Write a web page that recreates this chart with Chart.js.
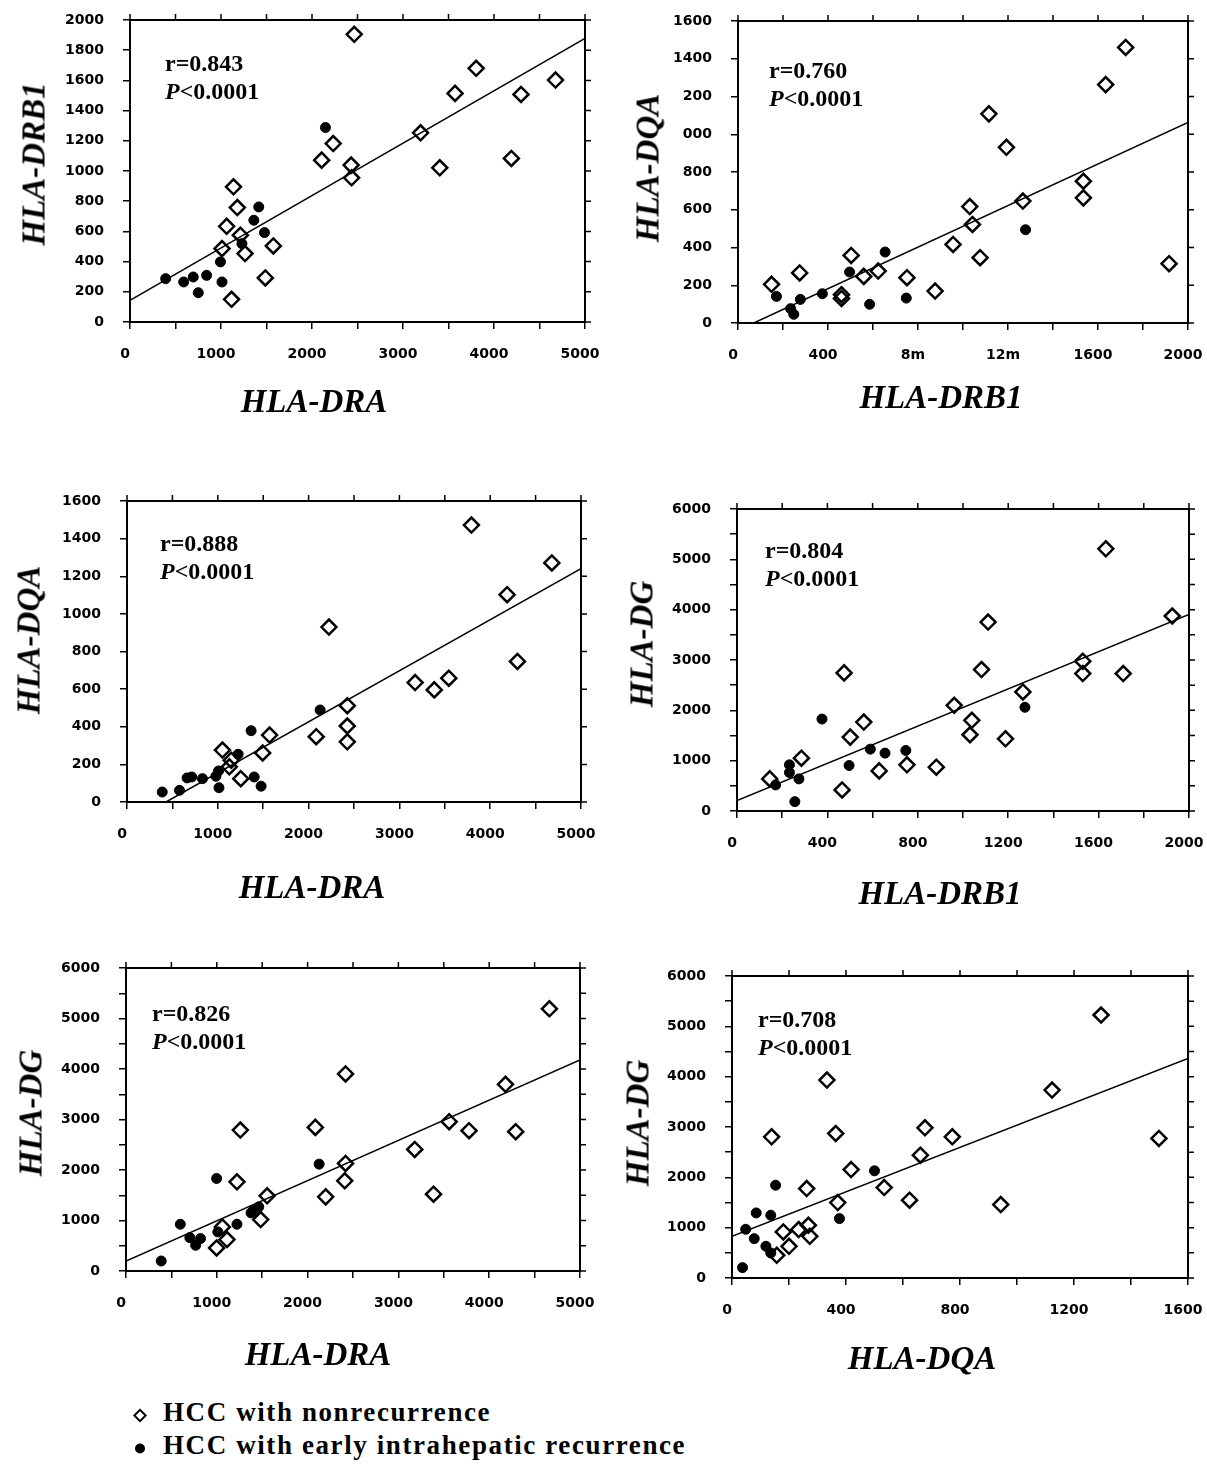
<!DOCTYPE html>
<html lang="en">
<head>
<meta charset="utf-8" />
<title>HLA class II expression correlations</title>
<style>
    html, body {
        margin: 0;
        padding: 0;
        background: #fff;
    }

    body {
        width: 1207px;
        height: 1465px;
        position: relative;
        overflow: hidden;
        color: #000;
    }

    canvas {
        position: absolute;
    }

    .axis-title {
        position: absolute;
        font-family: 'Liberation Serif', 'DejaVu Serif', serif;
        font-weight: bold;
        font-style: italic;
        font-size: 33px;
        white-space: nowrap;
        transform: translate(-50%, -50%);
    }

        .axis-title.vertical {
            transform: translate(-50%, -50%) rotate(-90deg);
        }

    .stat {
        position: absolute;
        font-family: 'Liberation Serif', 'DejaVu Serif', serif;
        font-weight: bold;
        font-size: 24px;
        line-height: 28px;
        white-space: nowrap;
        transform: translateY(-50%);
    }

    .legend-row {
        position: absolute;
        left: 131px;
        font-family: 'Liberation Serif', 'DejaVu Serif', serif;
        font-weight: bold;
        font-size: 27px;
        letter-spacing: 1.6px;
        white-space: nowrap;
        transform: translateY(-50%);
        display: flex;
        align-items: center;
    }

    .mark {
        display: inline-block;
        width: 18px;
        margin-right: 14px;
        text-align: center;
    }

    .mark.open::before {
        content: "";
        display: inline-block;
        width: 6px;
        height: 6px;
        border: 2px solid #000;
        transform: rotate(45deg);
    }

    .mark.filled::before {
        content: "";
        display: inline-block;
        width: 10px;
        height: 10px;
        border-radius: 50%;
        background: #000;
    }
</style>
</head>
<body>

<script src="https://cdn.jsdelivr.net/npm/chart.js@4.4.3/dist/chart.umd.min.js"></script>
<script>
    // values: [x, y] pairs per group, plus regression line end points

    // HLA-DRB1 vs HLA-DRA
    const p1Non = [[2464, 1905], [3804, 1680], [4676, 1602], [3572, 1514], [4297, 1507], [3193, 1253], [2233, 1182], [2106, 1072], [2430, 1039], [3404, 1021], [4191, 1083], [2435, 955], [1137, 895], [1179, 758], [1062, 634], [1213, 575], [1011, 486], [1264, 453], [1575, 504], [1487, 292], [1116, 150]];
    const p1Early = [[2148, 1288], [1415, 762], [1361, 674], [1478, 592], [1230, 519], [994, 398], [1011, 265], [842, 309], [695, 298], [590, 265], [750, 194], [392, 287]];
    const p1Fit = [[0, 144], [5000, 1878]];

    // HLA-DQA vs HLA-DRB1
    const p2Non = [[1723, 1460], [1634, 1263], [1115, 1108], [1193, 931], [1535, 751], [1535, 663], [1030, 617], [1042, 522], [1266, 646], [956, 416], [1076, 346], [1916, 314], [876, 169], [751, 240], [623, 275], [559, 247], [503, 358], [460, 150], [460, 130], [274, 265], [149, 205]];
    const p2Early = [[654, 376], [496, 270], [375, 155], [277, 125], [171, 141], [234, 76], [248, 46], [585, 99], [748, 132], [1278, 494]];
    const p2Fit = [[70, 0], [2000, 1063]];

    // HLA-DQA vs HLA-DRA
    const p3Non = [[3793, 1472], [4679, 1271], [4186, 1102], [2224, 930], [4300, 747], [3544, 658], [3173, 635], [3384, 596], [2426, 512], [2426, 404], [2426, 320], [2084, 347], [1570, 356], [1494, 261], [1051, 276], [1127, 187], [1253, 124], [1148, 222]];
    const p3Early = [[2127, 489], [1367, 379], [1224, 254], [1008, 165], [979, 137], [1013, 76], [1401, 133], [1477, 84], [831, 124], [713, 133], [662, 128], [578, 62], [388, 53]];
    const p3Fit = [[430, 0], [5000, 1240]];

    // HLA-DG vs HLA-DRB1
    const p4Non = [[1632, 5209], [1926, 3874], [1111, 3754], [1082, 2811], [474, 2744], [1530, 2977], [1530, 2731], [1709, 2731], [1265, 2365], [961, 2100], [1039, 1801], [1031, 1515], [1188, 1435], [561, 1767], [501, 1468], [285, 1050], [145, 638], [629, 797], [752, 917], [882, 870], [465, 419]];
    const p4Early = [[376, 1827], [1274, 2060], [590, 1229], [655, 1150], [747, 1203], [496, 904], [232, 917], [232, 764], [274, 638], [171, 518], [256, 186]];
    const p4Fit = [[0, 206], [2000, 3907]];

    // HLA-DG vs HLA-DRA
    const p5Non = [[4663, 5192], [2418, 3902], [4179, 3697], [3559, 2956], [3778, 2778], [4292, 2758], [1259, 2791], [2085, 2844], [3180, 2407], [2418, 2130], [2409, 1786], [2199, 1468], [3387, 1521], [1222, 1766], [1554, 1488], [1483, 1019], [1112, 622], [998, 456], [1061, 873]];
    const p5Early = [[998, 1832], [2127, 2116], [598, 926], [1222, 926], [1407, 1204], [1462, 1270], [1377, 1151], [1011, 774], [703, 661], [821, 642], [767, 509], [388, 198]];
    const p5Fit = [[0, 198], [5000, 4180]];

    // HLA-DG vs HLA-DQA
    const p6Non = [[1295, 5225], [333, 3932], [1123, 3733], [1498, 2772], [677, 2984], [773, 2805], [364, 2871], [139, 2805], [661, 2440], [418, 2155], [534, 1797], [623, 1545], [943, 1459], [371, 1499], [262, 1777], [268, 1048], [273, 829], [234, 962], [180, 915], [200, 630], [157, 451]];
    const p6Early = [[153, 1844], [500, 2129], [85, 1293], [136, 1247], [377, 1180], [48, 968], [78, 782], [119, 630], [136, 497], [37, 206]];
    const p6Fit = [[0, 829], [1600, 4363]];

    // tick labels, one per major tick (as printed in the figure)
    const draTicks = ['0', '1000', '2000', '3000', '4000', '5000'];
    const drb1Ticks = ['0', '400', '800', '1200', '1600', '2000'];
    const drb1TicksTopRight = ['0', '400', '8m', '12m', '1600', '2000'];
    const dqaXTicks = ['0', '400', '800', '1200', '1600'];
    const drb1YTicks = ['0', '200', '400', '600', '800', '1000', '1200', '1400', '1600', '1800', '2000'];
    const dqaYTicks = ['0', '200', '400', '600', '800', '1000', '1200', '1400', '1600'];
    const dqaYTicksTopRight = ['0', '200', '400', '600', '800', '000', '200', '1400', '1600'];
    const dgYTicks = ['0', '1000', '2000', '3000', '4000', '5000', '6000'];

    const rValues = ['0.843', '0.760', '0.888', '0.804', '0.826', '0.708'];
    const legendLabels = ['HCC with nonrecurrence', 'HCC with early intrahepatic recurrence'];

    const panels = [
        { non: p1Non, early: p1Early, fit: p1Fit, r: rValues[0], box: [0, 0, 615, 420], area: [130, 20, 585, 322],
          x: { max: 5000, major: 1000, labels: draTicks, title: 'HLA-DRA' }, y: { max: 2000, major: 200, minor: 200, labels: drb1YTicks, title: 'HLA-DRB1' },
          xTitleAt: [314, 401], yTitleAt: [34, 164], statAt: [165, 63] },
        { non: p2Non, early: p2Early, fit: p2Fit, r: rValues[1], box: [620, 0, 587, 420], area: [738, 21, 1188, 323],
          x: { max: 2000, major: 400, labels: drb1TicksTopRight, title: 'HLA-DRB1' }, y: { max: 1600, major: 200, minor: 200, labels: dqaYTicksTopRight, title: 'HLA-DQA' },
          xTitleAt: [941, 397], yTitleAt: [648, 168], statAt: [769, 70] },
        { non: p3Non, early: p3Early, fit: p3Fit, r: rValues[2], box: [0, 470, 615, 430], area: [127, 501, 581, 802],
          x: { max: 5000, major: 1000, labels: draTicks, title: 'HLA-DRA' }, y: { max: 1600, major: 200, minor: 200, labels: dqaYTicks, title: 'HLA-DQA' },
          xTitleAt: [312, 887], yTitleAt: [29, 640], statAt: [160, 543] },
        { non: p4Non, early: p4Early, fit: p4Fit, r: rValues[3], box: [620, 470, 587, 440], area: [737, 509, 1189, 811],
          x: { max: 2000, major: 400, labels: drb1Ticks, title: 'HLA-DRB1' }, y: { max: 6000, major: 1000, minor: 500, labels: dgYTicks, title: 'HLA-DG' },
          xTitleAt: [940, 893], yTitleAt: [642, 644], statAt: [765, 550] },
        { non: p5Non, early: p5Early, fit: p5Fit, r: rValues[4], box: [0, 940, 615, 430], area: [126, 968, 580, 1271],
          x: { max: 5000, major: 1000, labels: draTicks, title: 'HLA-DRA' }, y: { max: 6000, major: 1000, minor: 500, labels: dgYTicks, title: 'HLA-DG' },
          xTitleAt: [318, 1354], yTitleAt: [31, 1113], statAt: [152, 1013] },
        { non: p6Non, early: p6Early, fit: p6Fit, r: rValues[5], box: [620, 950, 587, 430], area: [732, 976, 1188, 1278],
          x: { max: 1600, major: 400, labels: dqaXTicks, title: 'HLA-DQA' }, y: { max: 6000, major: 1000, minor: 500, labels: dgYTicks, title: 'HLA-DG' },
          xTitleAt: [922, 1358], yTitleAt: [638, 1123], statAt: [758, 1019] }
    ];

    // box outline plus outward ticks on top and right edges
    const framePlugin = {
        id: 'frame',
        afterDatasetsDraw(chart) {
            const { ctx, chartArea: a, scales } = chart;
            ctx.save();
            ctx.strokeStyle = '#000';
            ctx.lineWidth = 2;
            ctx.strokeRect(a.left, a.top, a.right - a.left, a.bottom - a.top);
            ctx.lineWidth = 1.5;
            ctx.beginPath();
            scales.x.ticks.forEach(t => {
                const px = scales.x.getPixelForValue(t.value);
                ctx.moveTo(px, a.top);
                ctx.lineTo(px, a.top - 6);
            });
            scales.y.ticks.forEach(t => {
                const py = scales.y.getPixelForValue(t.value);
                ctx.moveTo(a.right, py);
                ctx.lineTo(a.right + 6, py);
            });
            ctx.stroke();
            ctx.restore();
        }
    };

    const tickFont = { family: "'DejaVu Sans', 'Liberation Sans', sans-serif", size: 14, weight: 'bold' };

    function addText(cls, html, left, top) {
        const el = document.createElement('div');
        el.className = cls;
        el.innerHTML = html;
        el.style.left = left + 'px';
        el.style.top = top + 'px';
        document.body.appendChild(el);
    }

    function toPoints(pairs) {
        return pairs.map(p => ({ x: p[0], y: p[1] }));
    }

    panels.forEach(p => {
        const [bx, by, bw, bh] = p.box;
        const [al, at, ar, ab] = p.area;

        const canvas = document.createElement('canvas');
        canvas.width = bw;
        canvas.height = bh;
        canvas.style.left = bx + 'px';
        canvas.style.top = by + 'px';
        canvas.style.width = bw + 'px';
        canvas.style.height = bh + 'px';
        document.body.appendChild(canvas);

        const label = (axis) => (v) => {
            if (v % axis.major !== 0) return '';
            return axis.labels[Math.round(v / axis.major)];
        };

        new Chart(canvas, {
            type: 'scatter',
            data: {
                datasets: [
                    {
                        type: 'line',
                        data: toPoints(p.fit),
                        borderColor: '#000',
                        borderWidth: 1.5,
                        pointRadius: 0,
                        fill: false
                    },
                    {
                        data: toPoints(p.non),
                        pointStyle: 'rectRot',
                        pointRadius: 7.5,
                        pointBorderWidth: 2.5,
                        borderColor: '#000',
                        backgroundColor: 'rgba(0,0,0,0)'
                    },
                    {
                        data: toPoints(p.early),
                        pointStyle: 'circle',
                        pointRadius: 5,
                        borderColor: '#000',
                        backgroundColor: '#000'
                    }
                ]
            },
            options: {
                responsive: false,
                animation: false,
                devicePixelRatio: 1,
                layout: { padding: { left: 0, top: at - by, right: bx + bw - ar, bottom: 0 } },
                plugins: { legend: { display: false }, tooltip: { enabled: false } },
                scales: {
                    x: {
                        type: 'linear',
                        min: 0,
                        max: p.x.max,
                        // fixed box so the plot area lands where the figure has it
                        afterFit: s => { s.height = by + bh - ab; s.paddingLeft = 0; s.paddingRight = 0; },
                        border: { display: true, color: '#000', width: 2 },
                        grid: { drawOnChartArea: false, drawTicks: true, tickLength: 7, color: '#000', lineWidth: 1.5 },
                        ticks: { stepSize: p.x.major / 2, autoSkip: false, maxRotation: 0, padding: 17, labelOffset: -5, color: '#000', font: tickFont, callback: label(p.x) }
                    },
                    y: {
                        type: 'linear',
                        min: 0,
                        max: p.y.max,
                        afterFit: s => { s.width = al - bx; s.paddingTop = 0; s.paddingBottom = 0; },
                        border: { display: true, color: '#000', width: 2 },
                        grid: { drawOnChartArea: false, drawTicks: true, tickLength: 7, color: '#000', lineWidth: 1.5 },
                        ticks: { stepSize: p.y.minor, autoSkip: false, padding: 19, color: '#000', font: tickFont, callback: label(p.y) }
                    }
                }
            },
            plugins: [framePlugin]
        });

        addText('axis-title', p.x.title, p.xTitleAt[0], p.xTitleAt[1]);
        addText('axis-title vertical', p.y.title, p.yTitleAt[0], p.yTitleAt[1]);
        addText('stat', 'r=' + p.r + '<br><i>P</i>&lt;0.0001', p.statAt[0], p.statAt[1] + 14);
    });

    addText('legend-row', '<span class="mark open"></span>' + legendLabels[0], 131, 1412);
    addText('legend-row', '<span class="mark filled"></span>' + legendLabels[1], 131, 1445);
</script>
</body>
</html>
